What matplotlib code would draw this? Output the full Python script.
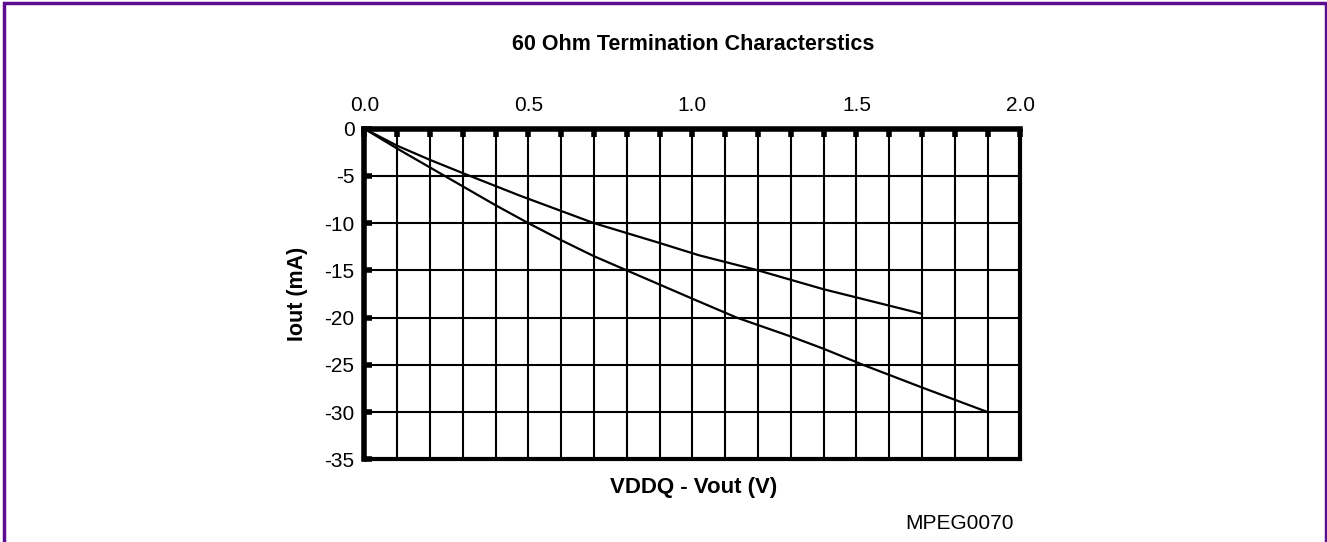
import matplotlib
matplotlib.use("Agg")
import matplotlib.pyplot as plt
from matplotlib.patches import Rectangle
from matplotlib.ticker import MultipleLocator

plt.rcParams["font.family"] = ["Liberation Sans", "DejaVu Sans"]

# readings (VDDQ - Vout in V, Iout in mA)
upper_v = [0.0, 0.1, 0.2, 0.3, 0.475, 0.7, 0.9, 1.02, 1.2, 1.4, 1.7]
upper_i = [0.0, -1.8, -3.3, -4.7, -7.1, -10.0, -12.1, -13.4, -15.0, -17.0, -19.6]

lower_v = [0.0, 0.1, 0.2, 0.3, 0.4, 0.5, 0.6, 0.7, 0.8, 1.0, 1.135, 1.3, 1.4, 1.52, 1.7, 1.9]
lower_i = [0.0, -2.1, -4.1, -6.1, -8.1, -10.0, -11.8, -13.5, -15.0, -18.0, -20.0, -22.0,
           -23.3, -25.0, -27.4, -30.0]

x_ticks = [0.0, 0.5, 1.0, 1.5, 2.0]
y_ticks = [0, -5, -10, -15, -20, -25, -30, -35]

fig = plt.figure(figsize=(13.27, 5.42), dpi=100)
ax = fig.add_axes([0.2745, 0.1526, 0.4945, 0.61])

ax.plot(upper_v, upper_i, color="black", lw=1.6, zorder=3)
ax.plot(lower_v, lower_i, color="black", lw=1.6, zorder=3)

ax.set_xlim(0, 2.0)
ax.set_ylim(-35, 0)
ax.xaxis.tick_top()
ax.set_xticks(x_ticks)
ax.set_xticklabels([f"{v:.1f}" for v in x_ticks])
ax.xaxis.set_minor_locator(MultipleLocator(0.1))
ax.set_yticks(y_ticks)
ax.set_yticklabels([str(v) for v in y_ticks])

ax.grid(which="both", color="black", lw=1.5, zorder=1)
ax.tick_params(axis="x", which="both", direction="in", length=6, width=4,
               labelsize=15, pad=10, top=True, bottom=False)
ax.tick_params(axis="y", direction="in", length=6, width=4, labelsize=15, pad=7)

ax.spines["left"].set_linewidth(4)
ax.spines["top"].set_linewidth(4)
ax.spines["bottom"].set_linewidth(3)
ax.spines["right"].set_linewidth(3)

ax.set_ylabel("Iout (mA)", fontsize=15.5, fontweight="bold", labelpad=12)
fig.text(0.523, 0.1, "VDDQ - Vout (V)", ha="center", va="center",
         fontsize=16, fontweight="bold")
fig.text(0.522, 0.917, "60 Ohm Termination Characterstics", ha="center", va="center",
         fontsize=15.5, fontweight="bold")
fig.text(0.723, 0.035, "MPEG0070", ha="center", va="center", fontsize=15)

# purple frame around the whole figure
fig.patches.append(Rectangle((4 / 1327, -0.05), 1321.5 / 1327, 1.05 - 3 / 542,
                             transform=fig.transFigure, fill=False,
                             edgecolor="#5a0d8f", lw=2.5))

fig.savefig("out.png", dpi=100)
